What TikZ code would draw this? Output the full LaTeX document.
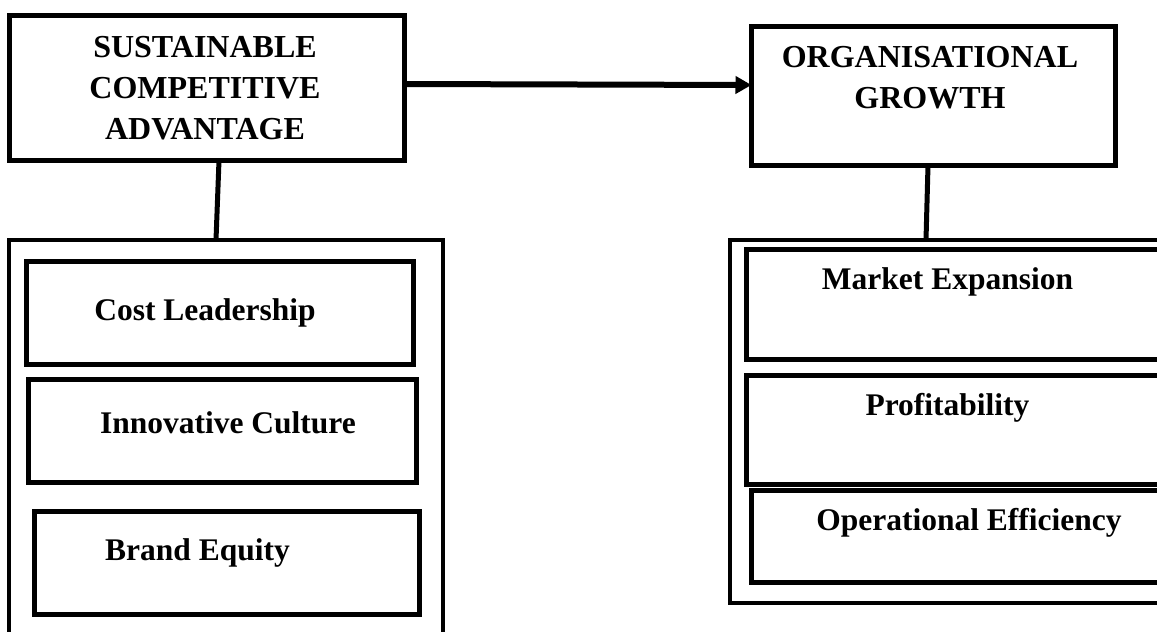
\documentclass[tikz,border=0pt]{standalone}
\usepackage{fontspec}
\setmainfont{Liberation Serif}
\usepackage{tikz}
\usetikzlibrary{arrows.meta,calc,positioning}
\newcommand{\headfont}{\fontsize{32}{41}\selectfont\bfseries}
\newcommand{\boxfont}{\fontsize{31.5}{41}\selectfont\bfseries}
\tikzstyle{header}=[
  draw=black,
  line width=5pt,
  rectangle,
  inner sep=0pt,
  outer sep=0pt,
]
\tikzstyle{group}=[
  draw=black,
  line width=4pt,
  rectangle,
  inner sep=0pt,
  outer sep=0pt,
]
\tikzstyle{factor}=[
  draw=black,
  line width=5pt,
  rectangle,
  inner sep=0pt,
  outer sep=0pt,
]
\tikzstyle{headtext}=[
  font=\headfont,
  align=center,
  inner sep=0pt,
]
\tikzstyle{boxtext}=[
  font=\boxfont,
  align=center,
  inner sep=0pt,
]
\tikzstyle{link}=[
  draw=black,
  line width=5pt,
]
\tikzset{
  >={Triangle[length=16pt,width=17pt]},
}

\begin{document}
\begin{tikzpicture}[x=1pt,y=-1pt]
     \useasboundingbox (0,0) rectangle (1157,632);
     \clip (0,0) rectangle (1157,632);
     %% independent side
     \node (sca) [header, minimum width=395, minimum height=145] at (207,88) {};
     \node (scatext) [headtext] at (205,88) {SUSTAINABLE\\COMPETITIVE\\ADVANTAGE};
     \node (scagroup) [group, minimum width=434, minimum height=410] at (226,445) {};
     \node (cost) [factor, minimum width=387, minimum height=103] at (220,313) {};
     \node (costtext) [boxtext] at (205,313) {Cost Leadership};
     \node (innov) [factor, minimum width=388, minimum height=103] at (222.5,431) {};
     \node (innovtext) [boxtext] at (228,423) {Innovative Culture};
     \node (brand) [factor, minimum width=385, minimum height=103] at (227,563) {};
     \node (brandtext) [boxtext] at (197.5,553) {Brand Equity};
     %% dependent side
     \node (og) [header, minimum width=364, minimum height=139] at (933.5,96) {};
     \node (ogtext) [headtext] at (930,77.5) {ORGANISATIONAL\\GROWTH};
     \node (oggroup) [group, minimum width=450, minimum height=363] at (955,421.5) {};
     \node (market) [factor, minimum width=438.5, minimum height=110] at (965.75,304.5) {};
     \node (markettext) [boxtext] at (947.5,282) {Market Expansion};
     \node (profit) [factor, minimum width=438.5, minimum height=109] at (965.75,430) {};
     \node (profittext) [boxtext] at (947.5,408) {Profitability};
     \node (operat) [factor, minimum width=433, minimum height=92] at (968,536.5) {};
     \node (operattext) [boxtext] at (969,523) {Operational Efficiency};
     %%
     \coordinate (A) at ($(sca.south)+(12,0)$);
     \coordinate (B) at ($(og.south)+(-5.5,0)$);
     \coordinate (C) at ($(oggroup.north)+(-29,0)$);
     \draw [->, link, line width=6pt] ($(sca.east)+(0,-4)$) -- ($(og.west)+(0,-11)$);
     \draw [link] (A) -- ($(A |- scagroup.north)+(-3,0)$);
     \draw [link] (B) -- (C);
   \end{tikzpicture}
\end{document}
